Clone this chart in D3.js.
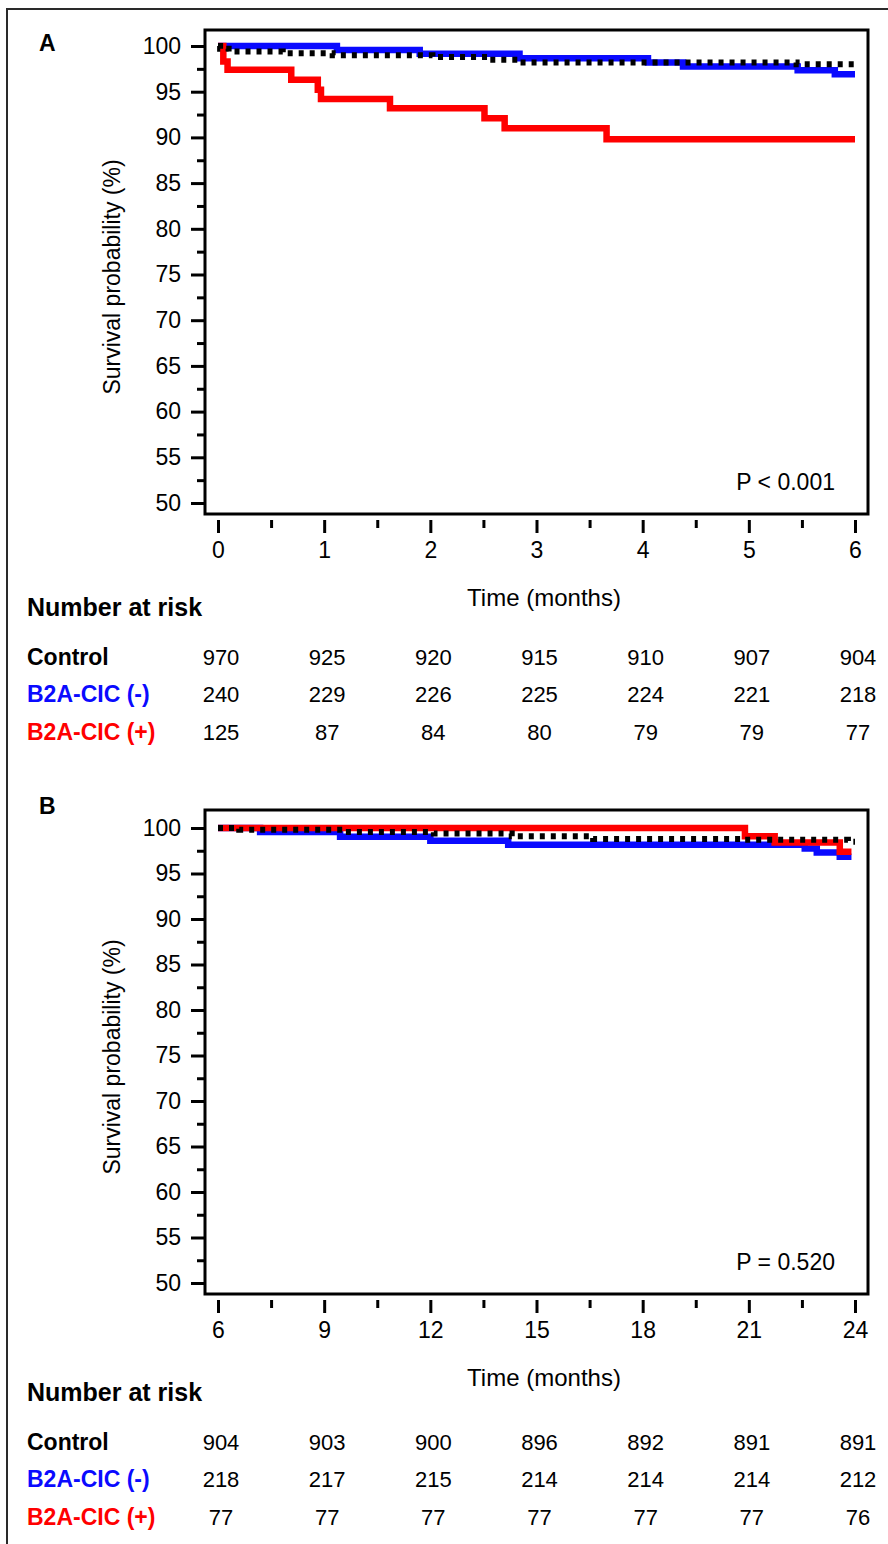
<!DOCTYPE html>
<html>
<head>
<meta charset="utf-8">
<script src="https://cdn.jsdelivr.net/npm/d3@7"></script>
<style>
  html, body { margin: 0; padding: 0; background: #fff; }
  svg { display: block; font-family: "Liberation Sans", Arial, sans-serif; }
</style>
</head>
<body>
<svg id="chart" width="888" height="1544"></svg>
<script>
// ---- Kaplan-Meier step data: [time (months), survival (%)] ----
const controlA  = [[0,100],[0.02,99.7],[0.1,99.4],[0.61,99.2],[1.08,99.0],[2.02,98.8],[2.56,98.5],[2.84,98.2],[5.45,98.0],[6,98.0]];
const negativeA = [[0,100],[1.12,99.55],[1.90,99.15],[2.84,98.65],[4.05,98.2],[4.38,97.75],[5.46,97.35],[5.81,96.9],[6,96.9]];
const positiveA = [[0,100],[0.05,98.3],[0.09,97.4],[0.69,96.3],[0.94,95.2],[0.97,94.2],[1.62,93.2],[2.51,92.1],[2.70,91.0],[3.66,89.8],[6,89.8]];

const controlB  = [[6,100],[6.6,99.8],[9.6,99.55],[12.1,99.4],[14.3,99.1],[16.6,98.8],[20.8,98.7],[23.8,98.5],[24,98.5]];
const negativeB = [[6,100],[7.19,99.55],[9.45,99.05],[12.0,98.6],[14.2,98.15],[22.58,97.75],[22.92,97.3],[23.57,96.85],[23.9,96.85]];
const positiveB = [[6,100],[20.89,99.1],[21.73,98.4],[23.57,97.4],[23.9,97.4]];

// ---- axis ticks ----
const yTicks = [50,55,60,65,70,75,80,85,90,95,100];
const yMinor = [52.5,57.5,62.5,67.5,72.5,77.5,82.5,87.5,92.5,97.5];
const xTicksA = [0,1,2,3,4,5,6];
const xMinorA = [0.5,1.5,2.5,3.5,4.5,5.5];
const xTicksB = [6,9,12,15,18,21,24];
const xMinorB = [7.5,10.5,13.5,16.5,19.5,22.5];

// ---- number at risk ----
const groups = ["Control","B2A-CIC (-)","B2A-CIC (+)"];
const riskA = [[970,925,920,915,910,907,904],[240,229,226,225,224,221,218],[125,87,84,80,79,79,77]];
const riskB = [[904,903,900,896,892,891,891],[218,217,215,214,214,214,212],[77,77,77,77,77,77,76]];
const pA = "P < 0.001";
const pB = "P = 0.520";

const BLUE = "#0a0aff", RED = "#ff0000";
const groupColors = ["#000", BLUE, RED];

const svg = d3.select("#chart");

// outer figure border (top and left edges)
svg.append("path").attr("d","M7,1544 V9 H888").attr("fill","none").attr("stroke","#2a2a2a").attr("stroke-width",2);

function panel(opt) {
  const g = svg.append("g").attr("transform", `translate(0,${opt.dy})`);
  const frame = {x0:205, x1:868, y0:30, y1:514};
  const x = d3.scaleLinear().domain(opt.xDomain).range([218, 855]);
  const y = d3.scaleLinear().domain([50,100]).range([503, 46 + opt.topShift]);

  // panel letter
  g.append("text").attr("x",39).attr("y",51 + opt.letterShift).attr("font-size",23).attr("font-weight","bold").text(opt.letter);

  // y axis (major + minor ticks)
  const yAx = g.append("g").attr("transform",`translate(${frame.x0},0)`)
    .call(d3.axisLeft(y).tickValues(yTicks).tickSize(14).tickPadding(10).tickFormat(d3.format("d")));
  const yMin = g.append("g").attr("transform",`translate(${frame.x0},0)`)
    .call(d3.axisLeft(y).tickValues(yMinor).tickSize(8).tickFormat(""));

  // x axis hangs just below the frame
  const xAx = g.append("g").attr("transform",`translate(0,${frame.y1 + 6})`)
    .call(d3.axisBottom(x).tickValues(opt.xTicks).tickSize(13).tickPadding(9).tickFormat(d3.format("d")));
  const xMin = g.append("g").attr("transform",`translate(0,${frame.y1 + 6})`)
    .call(d3.axisBottom(x).tickValues(opt.xMinor).tickSize(8).tickFormat(""));

  [yAx,yMin,xAx,xMin].forEach(a => {
    a.select(".domain").remove();
    a.selectAll(".tick line").attr("stroke","#000").attr("stroke-width",3);
    a.selectAll("text").attr("font-size",23).attr("fill","#000").attr("font-family","Liberation Sans, Arial, sans-serif");
  });

  // frame
  g.append("rect").attr("x",frame.x0).attr("y",frame.y0)
    .attr("width",frame.x1-frame.x0).attr("height",frame.y1-frame.y0)
    .attr("fill","none").attr("stroke","#000").attr("stroke-width",3);

  // axis titles
  g.append("text").attr("transform",`translate(120,277) rotate(-90)`)
    .attr("text-anchor","middle").attr("font-size",23).text("Survival probability (%)");
  g.append("text").attr("x",544).attr("y",606).attr("text-anchor","middle").attr("font-size",24).text("Time (months)");

  // survival curves
  const line = d3.line().x(d => x(d[0])).y(d => y(d[1])).curve(d3.curveStepAfter);
  const curves = g.append("g").attr("fill","none");
  curves.append("path").datum(opt.neg).attr("d",line).attr("stroke",BLUE).attr("stroke-width",6.5);
  curves.append("path").datum(opt.pos).attr("d",line).attr("stroke",RED).attr("stroke-width",6.5);
  curves.append("path").datum(opt.ctrl).attr("d",line).attr("stroke","#000").attr("stroke-width",6)
    .attr("stroke-dasharray","5,6");

  // p-value
  g.append("text").attr("x",835).attr("y",490).attr("text-anchor","end").attr("font-size",23).text(opt.p);

  // number at risk table
  const t = g.append("g").attr("transform",`translate(0,${opt.tableShift})`);
  t.append("text").attr("x",27).attr("y",616).attr("font-size",25).attr("font-weight","bold").text("Number at risk");
  const rowY = [665,702,740];
  groups.forEach((name,i) => {
    t.append("text").attr("x",27).attr("y",rowY[i]).attr("font-size",23).attr("font-weight","bold")
      .attr("fill",groupColors[i]).text(name);
    t.selectAll(null).data(opt.risk[i]).enter().append("text")
      .attr("x",(d,j) => x(opt.xTicks[j]) + 3).attr("y",rowY[i])
      .attr("text-anchor","middle").attr("font-size",22).attr("fill","#000").text(d => d);
  });
}

panel({dy:0, letter:"A", letterShift:0, topShift:0, tableShift:0, xDomain:[0,6], xTicks:xTicksA, xMinor:xMinorA,
       ctrl:controlA, neg:negativeA, pos:positiveA, risk:riskA, p:pA});
panel({dy:780, letter:"B", letterShift:-17, topShift:2, tableShift:5, xDomain:[6,24], xTicks:xTicksB, xMinor:xMinorB,
       ctrl:controlB, neg:negativeB, pos:positiveB, risk:riskB, p:pB});
</script>
</body>
</html>
